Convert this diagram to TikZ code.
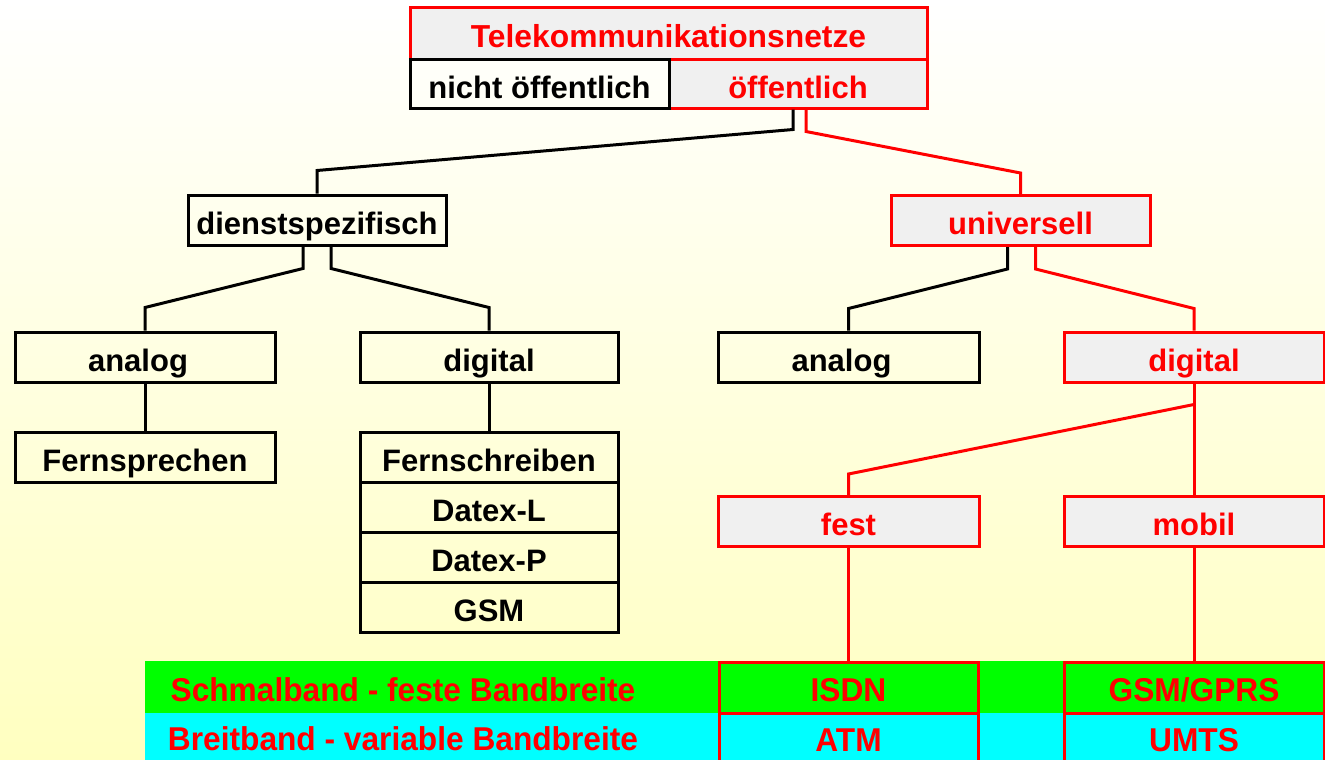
\documentclass[tikz,border=0pt]{standalone}
\usepackage{fontspec}
\setmainfont{Liberation Sans}
\newfontfamily\bandfont[FakeStretch=0.96]{Liberation Sans}
\usetikzlibrary{calc}
\definecolor{boxgrey}{HTML}{F0F0F0}
\definecolor{bandgreen}{HTML}{00FF00}
\definecolor{bandcyan}{HTML}{00FFFF}
\definecolor{cream}{HTML}{FFFFC0}
\definecolor{netred}{HTML}{FF0000}

\begin{document}
\begin{tikzpicture}[x=1pt,y=-1pt,
  lbl/.style={font=\fontsize{31}{36}\selectfont\bfseries, text height=28pt,
    text depth=0pt, inner sep=0pt, line width=3pt},
  blackbox/.style={lbl, draw=black, text=black, minimum height=50pt},
  redbox/.style={lbl, draw=netred, fill=boxgrey, text=netred, minimum height=50pt},
  bandbox/.style={lbl, font=\bandfont\fontsize{33}{38}\selectfont\bfseries,
    draw=netred, text=netred},
  bandtext/.style={lbl, font=\bandfont\fontsize{33}{38}\selectfont\bfseries,
    text=netred},
  blk/.style={draw=black, line width=3pt},
  rd/.style={draw=netred, line width=3pt},
]
\useasboundingbox (0,0) rectangle (1325,760);
\clip (0,0) rectangle (1325,760);

% background and the two bandwidth bands
\shade[top color=white, bottom color=cream] (0,0) rectangle (1325,760);
\fill[bandgreen] (145,661) rectangle (1325,713);
\fill[bandcyan] (145,713) rectangle (1325,760);

% root
\node[redbox, minimum width=517pt, minimum height=52pt,
  font=\fontsize{31.8}{36}\selectfont\bfseries] (tele) at (668.5,34) {Telekommunikationsnetze};
\node[redbox, minimum width=258pt, minimum height=48pt] (oeff) at (798,84) {öffentlich};
\node[blackbox, minimum width=259pt, minimum height=48pt] (nicht) at (539.5,84) {nicht öffentlich};

% second level
\node[blackbox, minimum width=258pt] (dienst) at (317,220) {dienstspezifisch};
\node[redbox, minimum width=259pt] (univ) at (1020.5,220.5) {universell};

% third level
\node[blackbox, minimum width=260pt] (analogL) at (145,357) {analog\hspace*{14pt}};
\node[blackbox, minimum width=258pt] (digitalL) at (489,357) {digital};
\node[blackbox, minimum width=261pt] (analogR) at (848.5,357) {analog\hspace*{14pt}};
\node[redbox, minimum width=260pt] (digitalR) at (1194,357) {digital};

% services
\node[blackbox, minimum width=260pt] (fern) at (145,457) {Fernsprechen};
\node[blackbox, minimum width=258pt] (s1) at (489,457) {Fernschreiben};
\node[blackbox, minimum width=258pt] (s2) at (489,507) {Datex-L};
\node[blackbox, minimum width=258pt] (s3) at (489,557) {Datex-P};
\node[blackbox, minimum width=258pt] (s4) at (489,607) {GSM};

% fixed / mobile
\node[redbox, minimum width=261pt] (fest) at (848.5,521.5) {fest};
\node[redbox, minimum width=260pt] (mobil) at (1194,521.5) {mobil};

% band labels and network boxes
\node[bandtext] (schmal) at (403,687.5) {Schmalband - feste Bandbreite};
\node[bandtext] (breit) at (403,736) {Breitband - variable Bandbreite};
\node[bandbox, minimum width=259pt, minimum height=51pt] (isdn) at (848.5,687.5) {ISDN};
\node[bandbox, minimum width=259pt, minimum height=48pt] (atm) at (848.5,737) {ATM};
\node[bandbox, minimum width=260pt, minimum height=51pt] (gsm) at (1194,687.5) {GSM/GPRS};
\node[bandbox, minimum width=260pt, minimum height=48pt] (umts) at (1194,737) {UMTS};

% connectors
\draw[blk] ([xshift=-5pt]oeff.south) -- ++(0,20) -- ($(dienst.north)+(0,-23)$) -- (dienst.north);
\draw[rd] ([xshift=8pt]oeff.south) -- ++(0,22) -- ($(univ.north)+(0,-21)$) -- (univ.north);
\draw[blk] ([xshift=-14pt]dienst.south) -- ++(0,22) -- ($(analogL.north)+(0,-23)$) -- (analogL.north);
\draw[blk] ([xshift=14pt]dienst.south) -- ++(0,22) -- ($(digitalL.north)+(0,-23)$) -- (digitalL.north);
\draw[blk] ([xshift=-13pt]univ.south) -- ++(0,22) -- ($(analogR.north)+(0,-22)$) -- (analogR.north);
\draw[rd] ([xshift=15pt]univ.south) -- ++(0,22) -- ($(digitalR.north)+(0,-22)$) -- (digitalR.north);
\draw[blk] (analogL) -- (fern);
\draw[blk] (digitalL) -- (s1);
\draw[rd] (digitalR) -- (mobil);
\draw[rd] ($(digitalR.south)+(0,21)$) -- ($(fest.north)+(0,-21)$) -- (fest.north);
\draw[rd] (fest) -- (isdn);
\draw[rd] (mobil) -- (gsm);
\end{tikzpicture}
\end{document}
